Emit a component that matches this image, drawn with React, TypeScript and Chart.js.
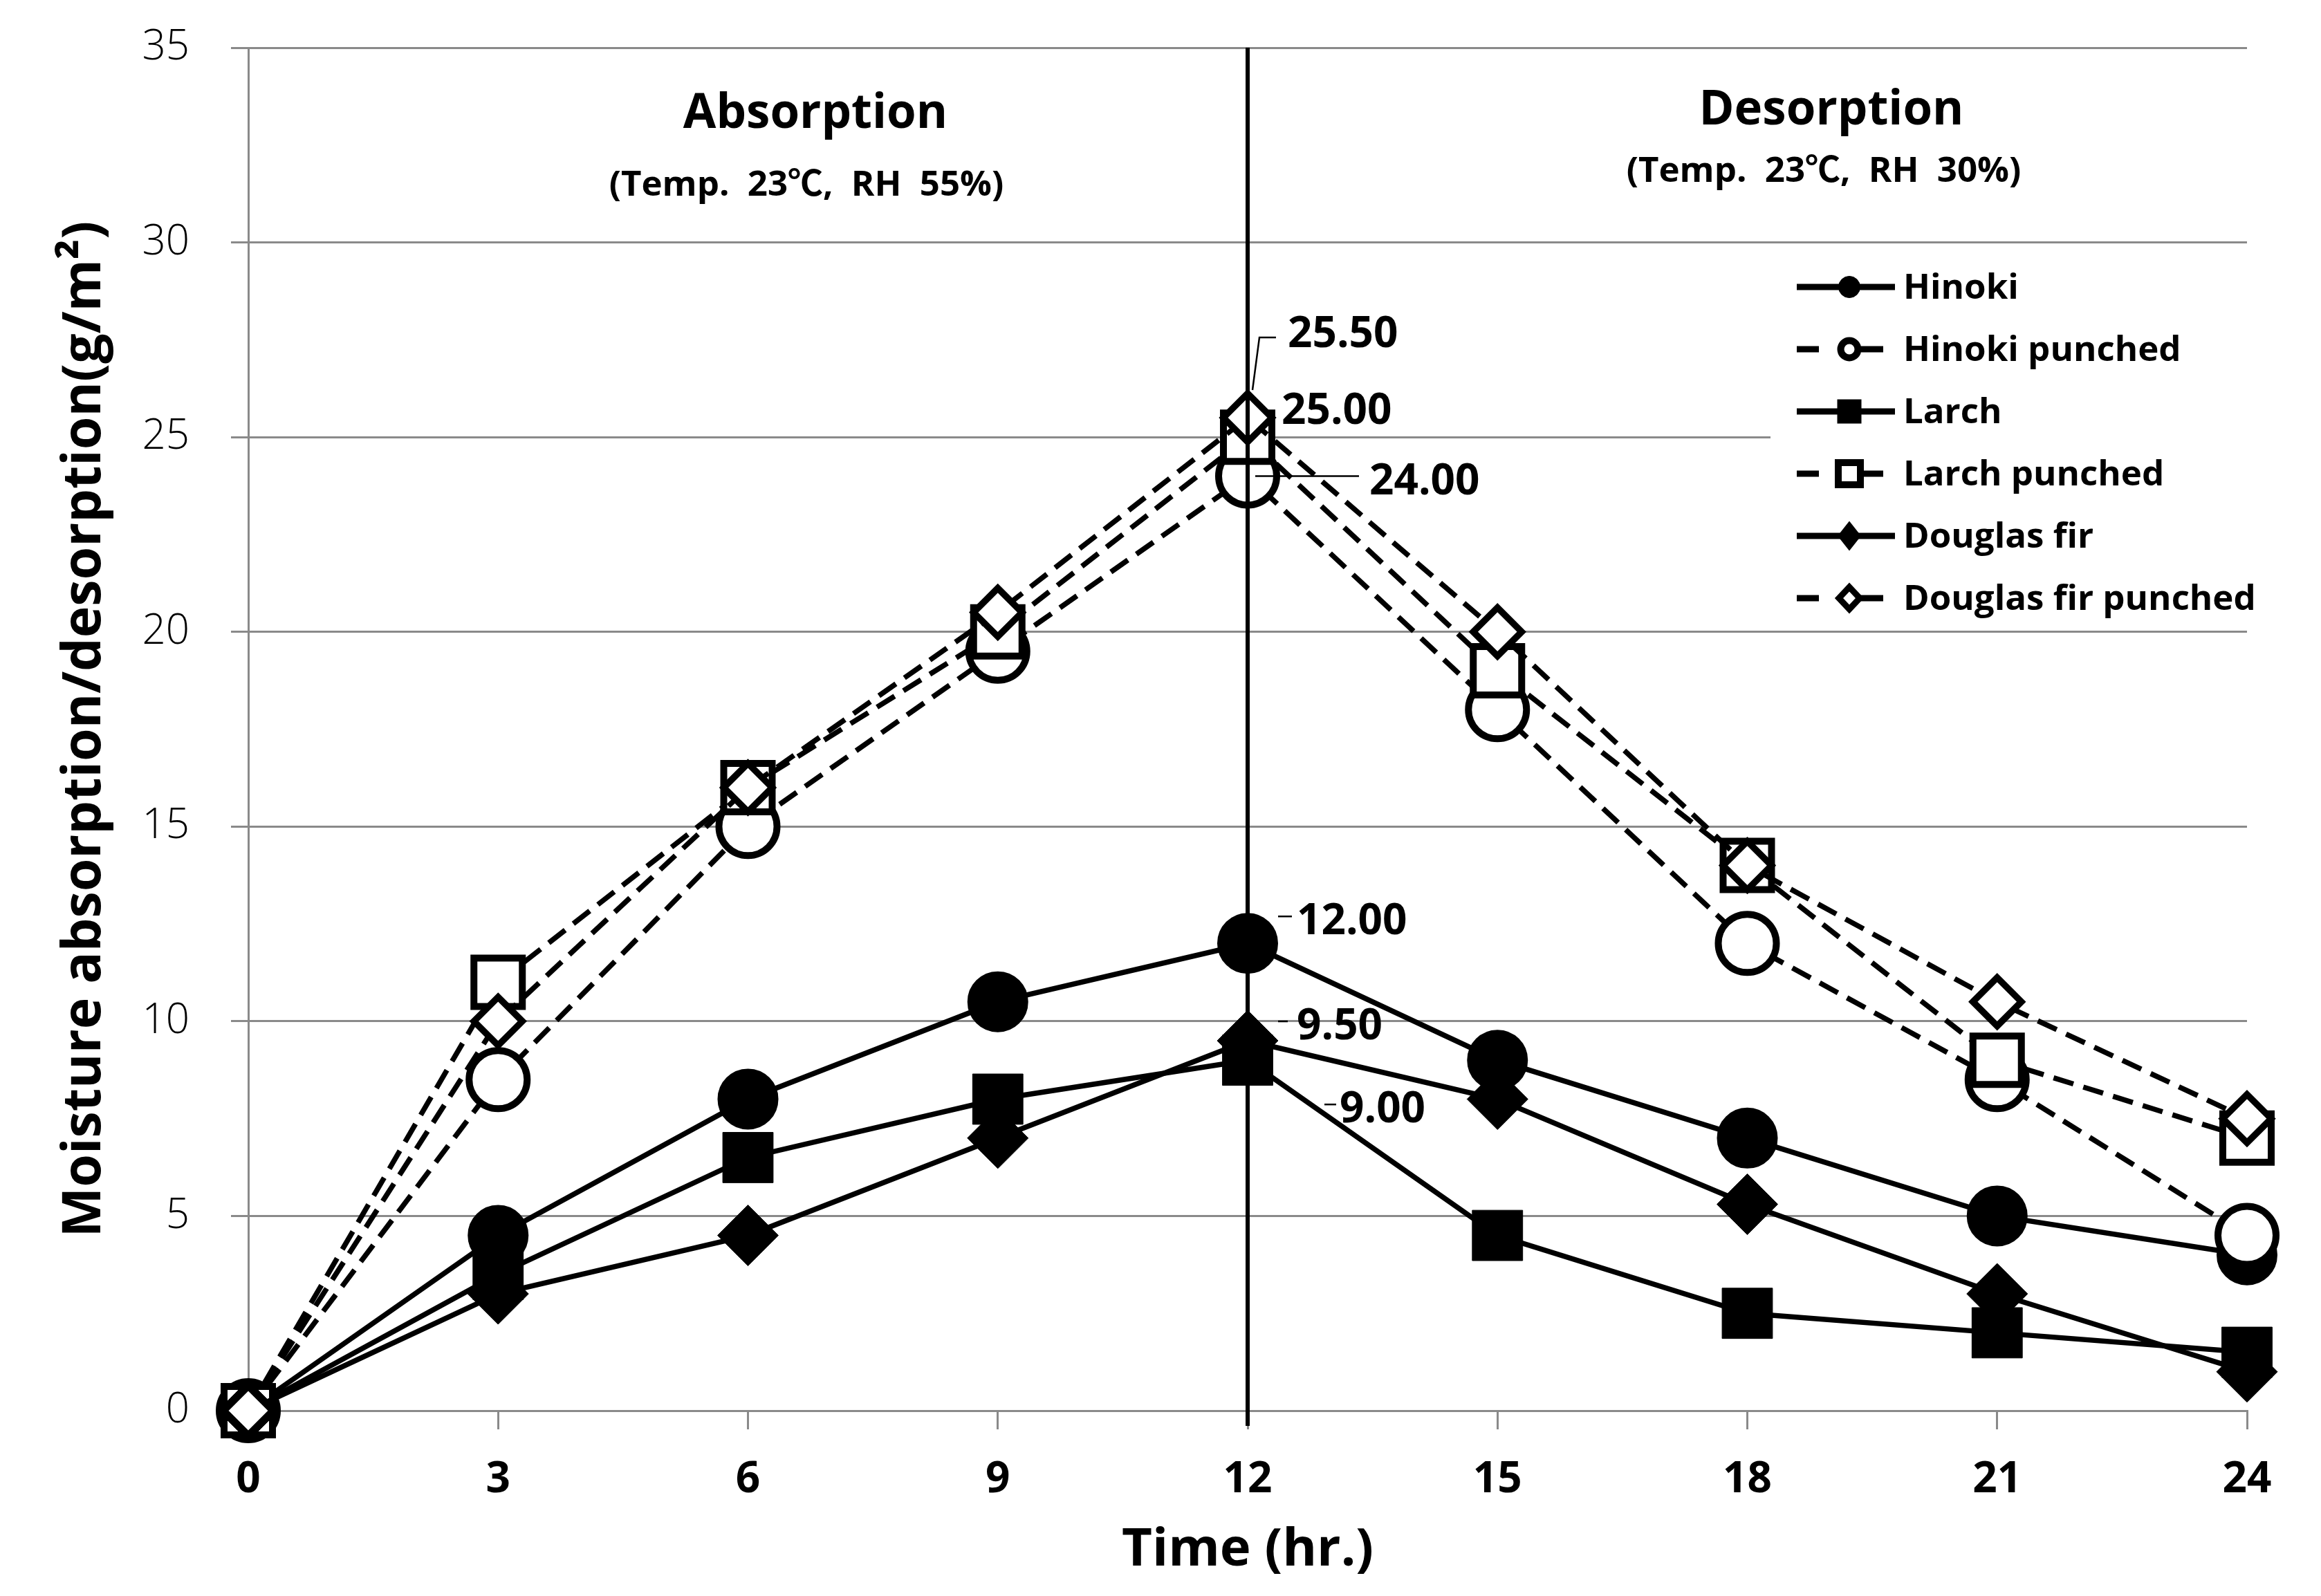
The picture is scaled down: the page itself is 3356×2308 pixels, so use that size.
import React, { useEffect, useRef } from 'react';
import { Chart, registerables } from 'chart.js';

Chart.register(...registerables);

// ---------------- data ----------------
const times = [0, 3, 6, 9, 12, 15, 18, 21, 24];
const seriesNames = ['Hinoki', 'Hinoki punched', 'Larch', 'Larch punched', 'Douglas fir', 'Douglas fir punched'];
const hinoki = [0, 4.5, 8, 10.5, 12, 9, 7, 5, 4];
const hinokiPunched = [0, 8.5, 15, 19.5, 24, 18, 12, 8.5, 4.5];
const larch = [0, 3.5, 6.5, 8, 9, 4.5, 2.5, 2, 1.5];
const larchPunched = [0, 11, 16, 20, 25, 19, 14, 9, 7];
const douglasFir = [0, 3, 4.5, 7, 9.5, 8, 5.3, 3, 1];
const douglasFirPunched = [0, 10, 16, 20.5, 25.5, 20, 14, 10.5, 7.5];
const yMin = 0;
const yMax = 35;
const yStep = 5;
const xMin = 0;
const xMax = 24;
const xStep = 3;
const dividerTime = 12;
const xTitle = 'Time (hr.)';
const yTitle = 'Moisture absorption/desorption(g/m²)';
const phaseTitles = ['Absorption', 'Desorption'];
const phaseConditions = ['(Temp. 23℃, RH 55%)', '(Temp. 23℃, RH 30%)'];
// which series (index) gets a value label at the divider time
const labelledSeries = [5, 3, 1, 0, 4, 2];

// ---------------- styles ----------------
const FONT = '"Open Sans", "Noto Sans CJK KR", sans-serif';
const GRID = '#8a8a8a';
const seriesStyles = [
  { shape: 'circle', filled: true, dashed: false },
  { shape: 'circle', filled: false, dashed: true },
  { shape: 'rect', filled: true, dashed: false },
  { shape: 'rect', filled: false, dashed: true },
  { shape: 'rectRot', filled: true, dashed: false },
  { shape: 'rectRot', filled: false, dashed: true },
];
const seriesData = [hinoki, hinokiPunched, larch, larchPunched, douglasFir, douglasFirPunched];

function pointSize(shape: string, filled: boolean) {
  if (shape === 'circle') return filled ? { r: 43, bw: 2 } : { r: 42, bw: 10 };
  if (shape === 'rect') return filled ? { r: 51.5, bw: 1 } : { r: 49.5, bw: 10 };
  return filled ? { r: 44, bw: 1 } : { r: 35, bw: 9.5 };
}

// label layout: offsets from the data point (px): label left x, label centre y, leader path
const labelLayout: Record<number, { dx: number; dy: number; leader: number[][] }> = {
  5: { dx: 58, dy: -120, leader: [[7, -40], [17, -116], [41, -116]] },
  3: { dx: 49, dy: -37, leader: [] },
  1: { dx: 176, dy: 9, leader: [[11, 0], [161, 0]] },
  0: { dx: 71, dy: -31, leader: [[44, -39], [64, -39]] },
  4: { dx: 71, dy: -20, leader: [[44, -28], [58, -28]] },
  2: { dx: 133, dy: 72, leader: [[111, 64], [128, 64]] },
};

function drawMarker(ctx: CanvasRenderingContext2D, shape: string, x: number, y: number, hw: number, hh: number, filled: boolean, lw: number) {
  ctx.beginPath();
  if (shape === 'circle') {
    ctx.arc(x, y, hw, 0, Math.PI * 2);
  } else if (shape === 'rect') {
    ctx.rect(x - hw, y - hh, 2 * hw, 2 * hh);
  } else {
    ctx.moveTo(x - hw, y);
    ctx.lineTo(x, y - hh);
    ctx.lineTo(x + hw, y);
    ctx.lineTo(x, y + hh);
    ctx.closePath();
  }
  ctx.fillStyle = filled ? '#000' : '#fff';
  ctx.fill();
  if (lw > 0) {
    ctx.lineWidth = lw;
    ctx.strokeStyle = '#000';
    ctx.stroke();
  }
}

const legendMarkers = [
  { hw: 15.5, hh: 15.5, lw: 1 },
  { hw: 12.5, hh: 12.5, lw: 10 },
  { hw: 17.5, hh: 17.5, lw: 0 },
  { hw: 16, hh: 16, lw: 10 },
  { hw: 17, hh: 21.5, lw: 0 },
  { hw: 15, hh: 16, lw: 9 },
];

const overlayPlugin = {
  id: 'overlay',
  beforeDatasetsDraw(chart: any) {
    const { ctx, chartArea } = chart;
    // legend background hides grid lines
    ctx.save();
    ctx.fillStyle = '#fff';
    ctx.fillRect(chartArea.right - 689, chartArea.top + 296, 760, 540);
    ctx.restore();
  },
  afterDatasetsDraw(chart: any) {
    const { ctx, chartArea, scales } = chart;
    const xs = scales.x;
    const ys = scales.y;
    ctx.save();

    // divider line
    const xd = xs.getPixelForValue(dividerTime);
    ctx.beginPath();
    ctx.strokeStyle = '#000';
    ctx.lineWidth = 6;
    ctx.moveTo(xd, chartArea.top);
    ctx.lineTo(xd, chartArea.bottom + 22);
    ctx.stroke();

    // phase titles
    ctx.fillStyle = '#000';
    ctx.textAlign = 'center';
    ctx.textBaseline = 'middle';
    const phasePos = [
      { x: chartArea.left + 820, y: chartArea.top + 96, sx: chartArea.left + 807, sy: chartArea.top + 199 },
      { x: chartArea.left + 2289, y: chartArea.top + 91, sx: chartArea.left + 2278, sy: chartArea.top + 179 },
    ];
    phaseTitles.forEach((t, i) => {
      ctx.font = `bold 69px ${FONT}`;
      (ctx as any).wordSpacing = '0px';
      ctx.fillText(t, phasePos[i].x, phasePos[i].y);
      ctx.font = `bold 51px ${FONT}`;
      (ctx as any).wordSpacing = '13px';
      ctx.fillText(phaseConditions[i], phasePos[i].sx, phasePos[i].sy);
    });
    (ctx as any).wordSpacing = '0px';

    // value labels at divider
    const di = times.indexOf(dividerTime);
    ctx.textAlign = 'left';
    ctx.font = `bold 62px ${FONT}`;
    labelledSeries.forEach((si) => {
      const v = seriesData[si][di];
      const px = xs.getPixelForValue(dividerTime);
      const py = ys.getPixelForValue(v);
      const lay = labelLayout[si];
      if (lay.leader.length > 1) {
        ctx.beginPath();
        ctx.lineWidth = 2.5;
        ctx.strokeStyle = '#000';
        ctx.moveTo(px + lay.leader[0][0], py + lay.leader[0][1]);
        for (let k = 1; k < lay.leader.length; k++) ctx.lineTo(px + lay.leader[k][0], py + lay.leader[k][1]);
        ctx.stroke();
      }
      ctx.fillText(v.toFixed(2), px + lay.dx, py + lay.dy);
    });

    // legend
    const lx0 = chartArea.right - 651;
    const lx1 = chartArea.right - 509;
    const lxm = chartArea.right - 575;
    const ly0 = chartArea.top + 346;
    const lstep = 90;
    seriesNames.forEach((name, i) => {
      const st = seriesStyles[i];
      const y = ly0 + i * lstep;
      ctx.beginPath();
      ctx.lineWidth = 9;
      ctx.strokeStyle = '#000';
      ctx.lineCap = 'butt';
      if (st.dashed) {
        ctx.moveTo(lx0, y); ctx.lineTo(lx0 + 32, y);
        ctx.moveTo(lx1 - 49, y); ctx.lineTo(lx1 - 17, y);
      } else {
        ctx.moveTo(lx0, y); ctx.lineTo(lx1, y);
      }
      ctx.stroke();
      const m = legendMarkers[i];
      drawMarker(ctx, st.shape, lxm, y, m.hw, m.hh, st.filled, m.lw);
      ctx.fillStyle = '#000';
      ctx.font = `bold 51px ${FONT}`;
      ctx.textBaseline = 'middle';
      ctx.fillText(name, lx1 + 12, y + 2);
    });

    ctx.restore();
  },
};

export default function App() {
  const canvasRef = useRef<HTMLCanvasElement | null>(null);

  useEffect(() => {
    const canvas = canvasRef.current;
    if (!canvas) return;
    const datasets = seriesNames.map((name, i) => {
      const st = seriesStyles[i];
      const ps = pointSize(st.shape, st.filled);
      return {
        label: name,
        data: seriesData[i].map((v, k) => ({ x: times[k], y: v })),
        borderColor: '#000',
        borderWidth: 7.5,
        borderDash: st.dashed ? [30, 15] : [],
        pointStyle: st.shape,
        pointRadius: ps.r,
        pointBorderWidth: ps.bw,
        pointBackgroundColor: st.filled ? '#000' : '#fff',
        pointBorderColor: '#000',
        fill: false,
        tension: 0,
        clip: false,
        order: seriesNames.length - i,
      };
    });

    const chart = new Chart(canvas, {
      type: 'line',
      data: { datasets },
      options: {
        responsive: false,
        devicePixelRatio: 1,
        animation: false,
        events: [],
        layout: { padding: { top: 69, right: 107, left: 0, bottom: 0 } },
        plugins: { legend: { display: false }, tooltip: { enabled: false } },
        scales: {
          x: {
            type: 'linear',
            min: xMin,
            max: xMax,
            afterFit: (s: any) => { s.height = 268; s.paddingLeft = 0; s.paddingRight = 0; },
            afterBuildTicks: (s: any) => {
              const t = [];
              for (let v = xMin; v <= xMax; v += xStep) t.push({ value: v });
              s.ticks = t;
            },
            ticks: { color: '#000', font: { family: FONT, size: 62, weight: 'bold' }, padding: 36, maxRotation: 0 },
            grid: { drawOnChartArea: false, color: GRID, lineWidth: 3, tickLength: 27 },
            border: { display: true, color: GRID, width: 3 },
            title: { display: true, text: xTitle, color: '#000', font: { family: FONT, size: 76, weight: 'bold' }, padding: { top: 0, bottom: 20 } },
          },
          y: {
            type: 'linear',
            min: yMin,
            max: yMax,
            afterFit: (s: any) => { s.width = 359; s.paddingTop = 0; s.paddingBottom = 0; },
            ticks: { stepSize: yStep, color: '#000', font: { family: FONT, size: 60, weight: '300' }, padding: 60 },
            grid: { color: GRID, lineWidth: 3, tickLength: 25 },
            border: { display: true, color: GRID, width: 3 },
            title: { display: true, text: yTitle, color: '#000', font: { family: FONT, size: 77, weight: 'bold' }, padding: { top: 77, bottom: 0 } },
          },
        },
      },
      plugins: [overlayPlugin],
    } as any);
    return () => chart.destroy();
  }, []);

  return (
    <div style={{ position: 'fixed', left: 0, top: 0, width: 3356, height: 2308, background: '#fff' }}>
      <canvas ref={canvasRef} width={3356} height={2308} style={{ width: 3356, height: 2308, display: 'block' }} />
    </div>
  );
}
